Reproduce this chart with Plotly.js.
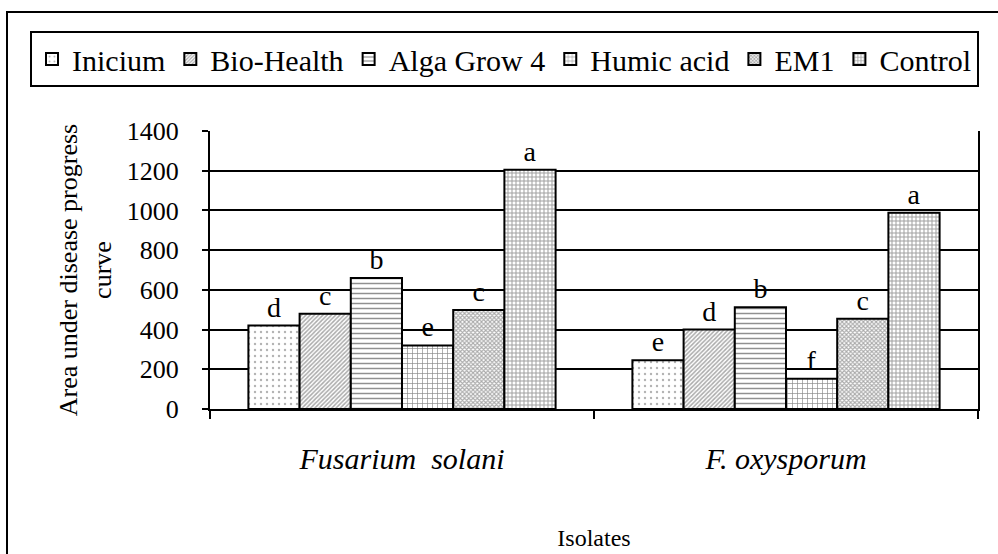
<!DOCTYPE html>
<html>
<head>
<meta charset="utf-8">
<script src="https://cdn.plot.ly/plotly-3.0.1.min.js"></script>
<style>
  html, body { margin: 0; padding: 0; background: #fff; }
  #chart { width: 998px; height: 554px; }
</style>
</head>
<body>
<div id="chart"></div>
<script>
// ---- data ----
const isolates = ['Fusarium\u00a0 solani', 'F. oxysporum'];
const treatments = ['Inicium', 'Bio-Health', 'Alga Grow 4', 'Humic acid', 'EM1', 'Control'];
const inicium    = [420, 245];
const bioHealth  = [480, 400];
const algaGrow4  = [660, 512];
const humicAcid  = [320, 152];
const em1        = [498, 455];
const control    = [1205, 988];
const letInicium   = ['d', 'e'];
const letBioHealth = ['c', 'd'];
const letAlgaGrow  = ['b', 'b'];
const letHumic     = ['e', 'f'];
const letEM1       = ['c', 'c'];
const letControl   = ['a', 'a'];
const yTicks = [0, 200, 400, 600, 800, 1000, 1200, 1400];

// ---- styles ----
const FONT = 'Liberation Serif';
const patterns = [
  {shape: '.', size: 6, solidity: 0.12, fgcolor: '#666'},
  {shape: '/', size: 3, solidity: 0.5, fgcolor: '#555'},
  {shape: '-', size: 5, solidity: 0.3, fgcolor: '#222'},
  {shape: '+', size: 5, solidity: 0.25, fgcolor: '#111'},
  {shape: 'x', size: 3, solidity: 0.6, fgcolor: '#555'},
  {shape: '+', size: 4, solidity: 0.45, fgcolor: '#444'}
];
const values = [inicium, bioHealth, algaGrow4, humicAcid, em1, control];
const letters = [letInicium, letBioHealth, letAlgaGrow, letHumic, letEM1, letControl];

const traces = treatments.map((name, i) => ({
  type: 'bar',
  name: name,
  x: isolates,
  y: values[i],
  text: letters[i],
  textposition: 'outside',
  textfont: {family: FONT, size: 28, color: '#000'},
  cliponaxis: false,
  constraintext: 'none',
  marker: {
    color: '#fff',
    line: {color: '#000', width: 2},
    pattern: Object.assign({bgcolor: '#fff', fillmode: 'overlay'}, patterns[i])
  },
  hoverinfo: 'x+y+name'
}));

// plot area: x 210..978, y 131..409
const L = 210, R = 20, T = 131, B = 145;
const pw = 998 - L - R, ph = 554 - T - B;
const px = v => (v - L) / pw;
const py = v => (554 - B - v) / ph;

const layout = {
  width: 998, height: 554,
  margin: {l: L, r: R, t: T, b: B},
  paper_bgcolor: '#fff', plot_bgcolor: '#fff',
  font: {family: FONT, color: '#000', size: 26},
  barmode: 'group',
  bargap: 0.2,
  bargroupgap: 0,
  showlegend: true,
  legend: {
    orientation: 'h',
    x: px(30), xanchor: 'left',
    y: py(31), yanchor: 'top',
    font: {family: FONT, size: 30, color: '#000'},
    bordercolor: '#000', borderwidth: 2,
    bgcolor: '#fff',
    itemwidth: 30,
    traceorder: 'normal'
  },
  xaxis: {
    type: 'category',
    tickson: 'boundaries',
    ticks: 'outside', ticklen: 8, tickwidth: 2, tickcolor: '#000',
    showline: true, linecolor: '#000', linewidth: 2,
    showgrid: false,
    tickfont: {family: FONT, size: 30, style: 'italic', color: '#000'},
    ticklabelstandoff: 22,
    title: {text: 'Isolates', font: {family: FONT, size: 24, color: '#000'}, standoff: 55},
    automargin: false
  },
  yaxis: {
    range: [0, 1400],
    tickvals: yTicks,
    ticks: 'outside', ticklen: 6, tickwidth: 2, tickcolor: '#000',
    showline: true, linecolor: '#000', linewidth: 2, mirror: true,
    showgrid: true, gridcolor: '#000', gridwidth: 2,
    zeroline: false,
    tickfont: {family: FONT, size: 26, color: '#000'},
    ticklabelstandoff: 18,
    title: {text: 'Area under disease progress<br>curve', font: {family: FONT, size: 26, color: '#000'}, standoff: 8},
    automargin: false
  },
  shapes: [{
    type: 'rect', xref: 'paper', yref: 'paper', layer: 'above',
    x0: px(7), x1: px(1010), y0: py(12), y1: py(580),
    line: {color: '#000', width: 2}, fillcolor: 'rgba(0,0,0,0)'
  }]
};

Plotly.newPlot('chart', traces, layout, {displayModeBar: false, staticPlot: true});
</script>
</body>
</html>
